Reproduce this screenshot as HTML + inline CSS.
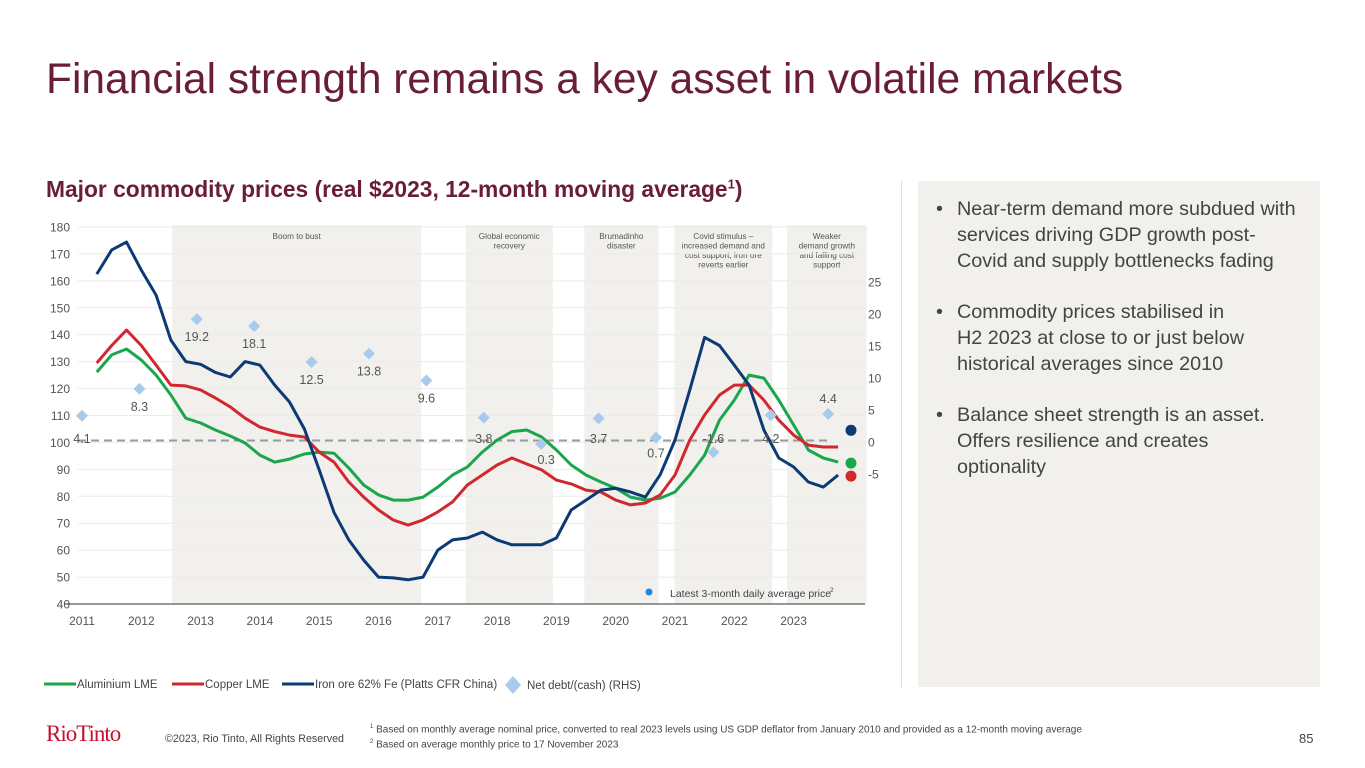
<!DOCTYPE html>
<html><head><meta charset="utf-8">
<style>
body{margin:0;width:1365px;height:768px;background:#fff;font-family:"Liberation Sans",sans-serif;position:relative;overflow:hidden}
.abs{position:absolute}
#title{left:46px;top:56px;font-size:42.5px;color:#6a1e35;white-space:nowrap}
#sub{left:46px;top:176px;font-size:22.8px;font-weight:bold;color:#6a1e35;white-space:nowrap}
#panel{left:918px;top:181px;width:402px;height:506px;background:#f1f0ec}
#divider{left:901px;top:181px;width:1px;height:506px;background:#ddd}
#panel ul{margin:0;padding:0;list-style:none}
#panel li{position:relative;padding-left:39px;width:345px;font-size:19.8px;line-height:26px;color:#444;margin-top:0;margin-bottom:25px}
#panel li:before{content:"•";position:absolute;left:18px;top:0}
.foot{font-size:10.7px;color:#444}
</style></head><body>
<div id="title" class="abs">Financial strength remains a key asset in volatile markets</div>
<div id="sub" class="abs">Major commodity prices (real $2023, 12-month moving average<sup style="font-size:13px">1</sup>)</div>
<div id="divider" class="abs"></div>
<div id="panel" class="abs">
<ul style="margin-top:15px">
<li>Near-term demand more subdued with services driving GDP growth post-Covid and supply bottlenecks fading</li>
<li>Commodity prices stabilised in<br>H2 2023 at close to or just below historical averages since 2010</li>
<li>Balance sheet strength is an asset. Offers resilience and creates optionality</li>
</ul></div>
<svg class="abs" style="left:0;top:0" width="1365" height="768" id="chart"></svg>
<div class="abs" style="left:46px;top:721px;font-family:'Liberation Serif',serif;font-size:23px;color:#c8102e;letter-spacing:-1px">RioTinto</div>
<div class="abs foot" style="left:165px;top:733px">©2023, Rio Tinto, All Rights Reserved</div>
<div class="abs foot" style="left:370px;top:721px;line-height:13px;font-size:10px"><sup style="font-size:6px">1</sup> Based on monthly average nominal price, converted to real 2023 levels using US GDP deflator from January 2010 and provided as a 12-month moving average<br><sup style="font-size:6px">2</sup> Based on average monthly price to 17 November 2023</div>
<div class="abs" style="left:1299px;top:731px;font-size:13px;color:#444">85</div>
<script>
const years=["2011","2012","2013","2014","2015","2016","2017","2018","2019","2020","2021","2022","2023"];
const leftTicks=[40,50,60,70,80,90,100,110,120,130,140,150,160,170,180];
const rightTicks=[-5,0,5,10,15,20,25];
const ironOre=[162.5,171.5,174.4,164,154.7,138,130,129,126,124.3,130,128.7,121.3,115,105,89.8,74,63.8,56.3,50,49.7,49,50,60,63.8,64.5,66.7,63.8,62,62,62,64.5,74.9,78.6,82.3,83,81.6,79.7,88,100.9,119.5,139,136,128.7,121.3,104.6,94.2,90.9,85.3,83.4,87.9];
const copper=[129.5,136,141.7,136,128.7,121.3,121,119.5,116.5,113.2,109,105.7,104,102.7,102,96.4,92.7,85.3,79.7,74.9,71.2,69.3,71.2,74.2,77.9,84.2,87.9,91.6,94.2,92,89.8,86,84.6,82.3,81.6,78.6,76.8,77.5,80.5,87.9,100.9,110.2,117.6,121.3,121.3,115.7,108.3,102.7,99,98.3,98.3];
const aluminium=[126.1,132.5,134.7,130.6,125,117.6,109,107.2,104.6,102.4,99.8,95.3,92.7,93.8,95.7,96.4,96,90.5,84.2,80.5,78.6,78.6,79.7,83.4,87.9,90.9,96.4,100.9,104,104.6,102,97.2,91.6,87.9,85.3,83,79.7,78.6,79.3,81.6,87.9,95.3,108.3,115.7,125,123.9,115.7,106.5,97.2,94.2,92.7];
const netDebt=[4.1,8.3,19.2,18.1,12.5,13.8,9.6,3.8,-0.3,3.7,0.7,-1.6,4.2,4.4];
const netDebtLabels=["4.1","8.3","19.2","18.1","12.5","13.8","9.6","3.8","0.3","3.7","0.7","-1.6","4.2","4.4"];
const latest=[{name:"iron",v:104.5,c:"#0b3a74"},{name:"aluminium",v:92.3,c:"#1aa64a"},{name:"copper",v:87.5,c:"#d0282e"}];
const bands=[[2012.52,2016.72,"Boom to bust"],[2017.47,2018.94,"Global economic|recovery"],[2019.47,2020.72,"Brumadinho|disaster"],[2020.99,2022.64,"Covid stimulus –|increased demand and|cost support; iron ore|reverts earlier"],[2022.89,2024.23,"Weaker|demand growth|and falling cost|support"]];

const NS="http://www.w3.org/2000/svg";
const svg=document.getElementById('chart');
const X=t=>82+(t-2011)*59.3;
const Y=v=>604-(v-40)*2.693;
const YR=v=>442-v*6.4;
const DX=i=>82+i*57.4;
function mk(tag,attrs,parent){const e=document.createElementNS(NS,tag);for(const k in attrs)e.setAttribute(k,attrs[k]);(parent||svg).appendChild(e);return e;}
function txt(x,y,s,size,fill,anchor){const e=mk('text',{x:x,y:y,'font-size':size,fill:fill,'text-anchor':anchor||'middle','font-family':'Liberation Sans, sans-serif'});e.textContent=s;return e;}

bands.forEach(b=>{
 const r=mk('rect',{x:X(b[0]),y:225,width:X(b[1])-X(b[0]),height:379,fill:'#f2f0ed'});
 
 
 b[2].split('|').forEach((l,i)=>{const t=txt((X(b[0])+X(b[1]))/2,239+i*9.5,l,8.2,'#555');
 
 });
});
leftTicks.forEach(v=>{
 if(v>40){const g=mk('line',{x1:78,x2:865,y1:Y(v),y2:Y(v),stroke:'#ebebeb','stroke-width':1});
 
 }
 const t=txt(70,Y(v)+4.5,String(v),12,'#555','end');
 
 
});
const ax=mk('line',{x1:65,x2:865,y1:Y(40),y2:Y(40),stroke:'#333','stroke-width':1});


rightTicks.forEach(v=>{const t=txt(868,YR(v)+4.5,String(v),12,'#555','start');
 
 });
years.forEach(y=>{const t=txt(X(+y),625,y,12,'#555');
 
 });
const zl=mk('line',{x1:78,x2:830,y1:YR(0)-1.5,y2:YR(0)-1.5,stroke:'#999','stroke-width':2,'stroke-dasharray':'8,5'});



function series(arr,color,name){
 const d=arr.map((v,i)=>(i?'L':'M')+X(2011.25+i*0.25).toFixed(1)+','+Y(v).toFixed(1)).join(' ');
 const p=mk('path',{d:d,fill:'none',stroke:color,'stroke-width':3,'stroke-linejoin':'round'});
 
 
}
series(aluminium,'#1aa64a','aluminium-line');
series(copper,'#d0282e','copper-line');
series(ironOre,'#0b3a74','iron-ore-line');

netDebt.forEach((v,i)=>{
 const x=DX(i),y=YR(v);
 const d=mk('path',{d:`M${x},${y-6} L${x+6},${y} L${x},${y+6} L${x-6},${y}Z`,fill:'#a8cbec'});
 
 
 const ly=(i===netDebt.length-1)?y-11:(Math.abs(v)<5?YR(0)+1:y+22);
 const yy=(v<1&&v>-1)?y+20:ly;
 const t=txt(x+(i===8?5:0),yy,netDebtLabels[i],12.5,'#555');
 
 
});
latest.forEach(p=>{const c=mk('circle',{cx:851,cy:Y(p.v),r:5.5,fill:p.c});
 
 });
const ld=mk('circle',{cx:649,cy:592,r:3.5,fill:'#1e88e5'});


const lt=txt(670,597,'Latest 3-month daily average price',10.5,'#444','start');


const ls=txt(830,592,'2',6.5,'#444','start');



const legend=[[48,'#1aa64a','Aluminium LME','legend-aluminium'],[176,'#d0282e','Copper LME','legend-copper'],[286,'#0b3a74','Iron ore 62% Fe (Platts CFR China)','legend-iron-ore']];
legend.forEach(l=>{
 const g=mk('g',{});
 
 
 mk('line',{x1:l[0]-4,x2:l[0]+28,y1:684,y2:684,stroke:l[1],'stroke-width':3},g);
 const t=txt(l[0]+29,688,l[2],11.5,'#444','start');g.appendChild(t);
});
const lg=mk('g',{});


mk('path',{d:'M513,676 L521,685 L513,694 L505,685Z',fill:'#a8cbec'},lg);
lg.appendChild(txt(527,689,'Net debt/(cash) (RHS)',11.5,'#444','start'));
</script>
</body></html>
